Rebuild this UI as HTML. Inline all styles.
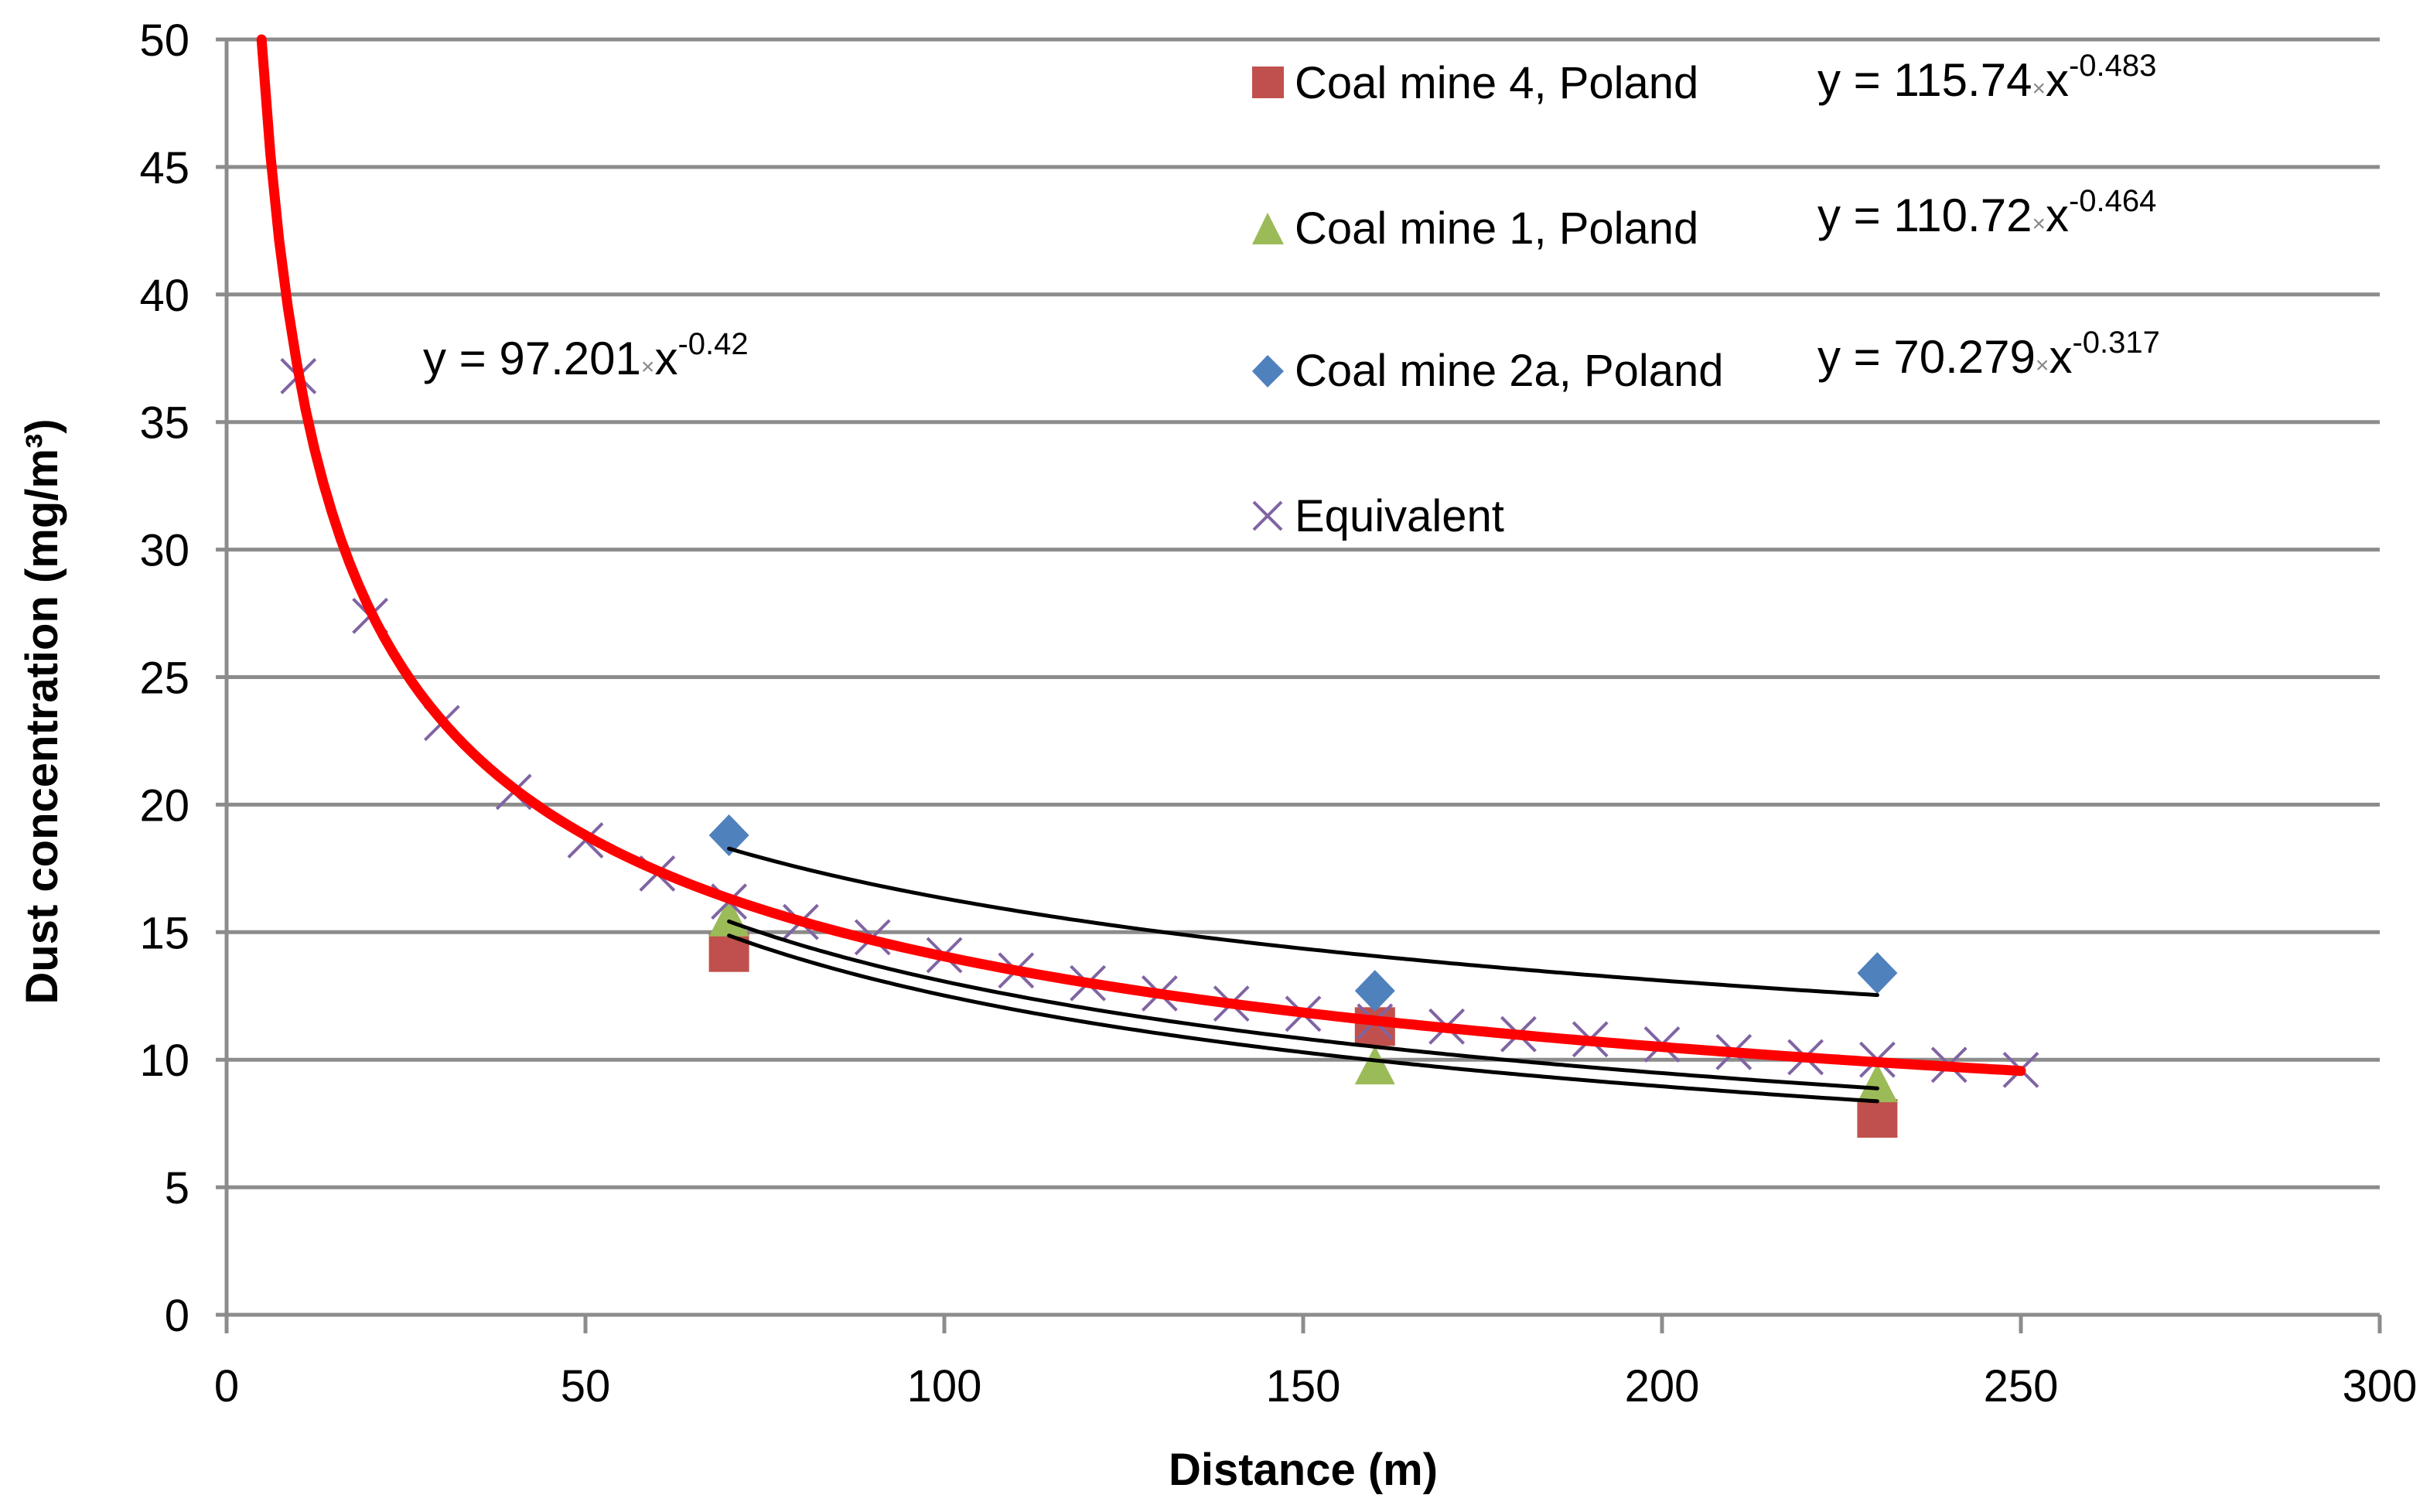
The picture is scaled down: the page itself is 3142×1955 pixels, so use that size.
<!DOCTYPE html>
<html><head><meta charset="utf-8"><style>
html,body{margin:0;padding:0;background:#fff;}
svg{display:block;font-family:"Liberation Sans",sans-serif;}
</style></head><body>
<svg id="chart" width="3142" height="1955" viewBox="0 0 3142 1955" xmlns="http://www.w3.org/2000/svg">
<g id="grid"></g>
<g id="trends"></g>
<g id="marks"></g>
<g id="labels"></g>
<text transform="translate(74,920) rotate(-90)" text-anchor="middle" font-size="58" font-weight="bold">Dust concentration (mg/m³)</text>
<text x="1685" y="1920" text-anchor="middle" font-size="58" font-weight="bold">Distance (m)</text>
<text x="547" y="484" font-size="60">y = 97.201<tspan font-size="30" fill="#888">×</tspan>x<tspan font-size="40" dy="-26">-0.42</tspan></text>
<g font-size="58">
 <g>
  <rect x="1619" y="86" width="41" height="41" fill="#C0504D"/>
  <text x="1674" y="127">Coal mine 4, Poland</text>
  <text x="2350" y="124" font-size="60">y = 115.74<tspan font-size="30" fill="#888">×</tspan>x<tspan font-size="40" dy="-26">-0.483</tspan></text>
 </g>
 <g>
  <polygon points="1639,275 1660,316 1619,316" fill="#9BBB59"/>
  <text x="1674" y="315">Coal mine 1, Poland</text>
  <text x="2350" y="299" font-size="60">y = 110.72<tspan font-size="30" fill="#888">×</tspan>x<tspan font-size="40" dy="-26">-0.464</tspan></text>
 </g>
 <g>
  <polygon points="1639,459 1660,480 1639,501 1619,480" fill="#4F81BD"/>
  <text x="1674" y="499">Coal mine 2a, Poland</text>
  <text x="2350" y="482" font-size="60">y = 70.279<tspan font-size="30" fill="#888">×</tspan>x<tspan font-size="40" dy="-26">-0.317</tspan></text>
 </g>
 <g>
  <path d="M1621,649 L1657,685 M1657,649 L1621,685" stroke="#8064A2" stroke-width="4"/>
  <text x="1674" y="687">Equivalent</text>
 </g>
</g>
</svg>
<script>
const xTicks=[0,50,100,150,200,250,300];
const yTicks=[0,5,10,15,20,25,30,35,40,45,50];
const mineX=[70,160,230];
const mine4Y=[14.2,11.3,7.7];
const mine1Y=[15.5,9.7,9.0];
const mine2aY=[18.8,12.7,13.4];
const equivX=[10,20,30,40,50,60,70,80,90,100,110,120,130,140,150,160,170,180,190,200,210,220,230,240,250];
const equivY=[36.8,27.4,23.2,20.5,18.6,17.3,16.2,15.4,14.8,14.1,13.5,13.0,12.6,12.2,11.8,11.5,11.3,11.0,10.8,10.6,10.3,10.1,10.0,9.8,9.6];
const fitMine4=[115.74,-0.483];
const fitMine1=[110.72,-0.464];
const fitMine2a=[70.279,-0.317];
const fitEquiv=[97.201,-0.42];

const NS="http://www.w3.org/2000/svg";
const X0=293,X1=3077,Y0=1700,Y1=51;
const sx=v=>X0+(v-0)/(300-0)*(X1-X0);
const sy=v=>Y0-(v-0)/(50-0)*(Y0-Y1);
function mk(tag,attrs,parent){const e=document.createElementNS(NS,tag);for(const k in attrs)e.setAttribute(k,attrs[k]);parent.appendChild(e);return e;}
const grid=document.getElementById('grid'),labels=document.getElementById('labels'),marks=document.getElementById('marks'),trends=document.getElementById('trends');
yTicks.forEach(t=>{
 const l=mk('line',{x1:X0-14,x2:X1,y1:sy(t),y2:sy(t),stroke:'#8c8c8c','stroke-width':5},grid);
 
 
 const tx=mk('text',{x:X0-48,y:sy(t)+21,'text-anchor':'end','font-size':58},labels);
 tx.textContent=t;
 
 
});
const ax=mk('line',{x1:X0,x2:X0,y1:Y1,y2:Y0+14,stroke:'#8c8c8c','stroke-width':5},grid);


xTicks.forEach(t=>{
 const l=mk('line',{x1:sx(t),x2:sx(t),y1:Y0,y2:Y0+24,stroke:'#8c8c8c','stroke-width':5},grid);
 
 
 const tx=mk('text',{x:sx(t),y:Y0+112,'text-anchor':'middle','font-size':58},labels);
 tx.textContent=t;
 
 
});
function curve(fit,xa,xb,color,w,name){
 let d='';for(let i=0;i<=200;i++){const x=xa+(xb-xa)*i/200;const y=fit[0]*Math.pow(x,fit[1]);d+=(i?'L':'M')+sx(x).toFixed(1)+','+sy(y).toFixed(1);}
 const p=mk('path',{d:d,fill:'none',stroke:color,'stroke-width':w,'stroke-linecap':'round'},trends);
 
 
}
mineX.forEach((x,i)=>{
 const r=mk('rect',{x:sx(x)-26,y:sy(mine4Y[i])-25,width:52,height:50,fill:'#C0504D'},marks);
 
 
});
mineX.forEach((x,i)=>{
 const cx=sx(x),cy=sy(mine1Y[i]);
 const p=mk('polygon',{points:`${cx},${cy-28} ${cx+26},${cy+22} ${cx-26},${cy+22}`,fill:'#9BBB59'},marks);
 
 
});
mineX.forEach((x,i)=>{
 const cx=sx(x),cy=sy(mine2aY[i]);
 const p=mk('polygon',{points:`${cx},${cy-27} ${cx+26},${cy} ${cx},${cy+27} ${cx-26},${cy}`,fill:'#4F81BD'},marks);
 
 
});
equivX.forEach((x,i)=>{
 const cx=sx(x),cy=sy(equivY[i]);
 const p=mk('path',{d:`M${cx-22},${cy-22}L${cx+22},${cy+22}M${cx+22},${cy-22}L${cx-22},${cy+22}`,stroke:'#8064A2','stroke-width':4},marks);
 
 
});
document.getElementById('chart').appendChild(trends);
curve(fitMine2a,70,230,'#000',5,'coal-mine-2a-trendline');
curve(fitMine1,70,230,'#000',5,'coal-mine-1-trendline');
curve(fitMine4,70,230,'#000',5,'coal-mine-4-trendline');
const xStart=Math.pow(50/fitEquiv[0],1/fitEquiv[1]);
curve(fitEquiv,xStart,250,'#FF0000',13,'equivalent-trendline');
</script>
</body></html>
